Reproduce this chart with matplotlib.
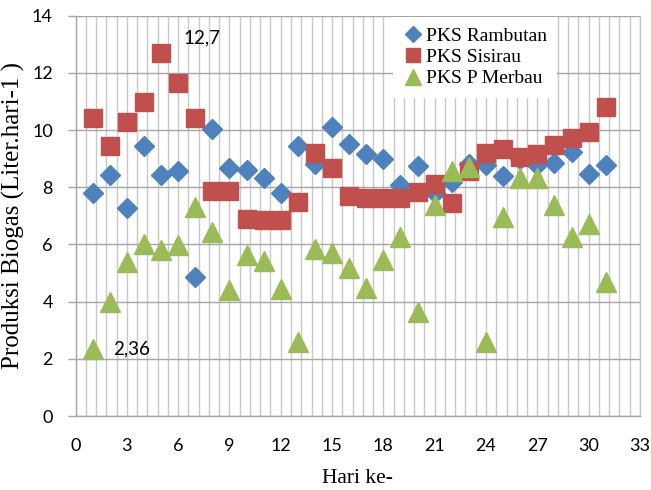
"""Produksi biogas harian per PKS (scatter, gaya Excel)."""
import matplotlib
matplotlib.use("Agg")
import matplotlib.pyplot as plt
import numpy as np

# -----------------------------------------------------------------------------
# Data
# -----------------------------------------------------------------------------
hari = list(range(1, 32))

rambutan = [7.8, 8.43, 7.27, 9.43, 8.43, 8.58, 4.85, 10.03, 8.66, 8.6,
            8.31, 7.79, 9.45, 8.83, 10.1, 9.5, 9.16, 8.99, 8.08, 8.74,
            7.79, 8.2, 8.8, 8.78, 8.4, 9.0, 8.78, 8.84, 9.25, 8.47, 8.79]

sisirau = [10.42, 9.43, 10.27, 10.98, 12.7, 11.63, 10.42, 7.88, 7.88, 6.9,
           6.84, 6.87, 7.48, 9.2, 8.66, 7.68, 7.62, 7.62, 7.62, 7.82,
           8.12, 7.45, 8.58, 9.2, 9.35, 9.06, 9.16, 9.47, 9.71, 9.94, 10.81]

merbau = [2.36, 3.98, 5.4, 6.0, 5.8, 5.98, 7.3, 6.44, 4.42, 5.62,
          5.42, 4.43, 2.6, 5.83, 5.7, 5.18, 4.49, 5.45, 6.27, 3.65,
          7.39, 8.58, 8.72, 2.6, 6.95, 8.31, 8.31, 7.38, 6.27, 6.7, 4.67]

x_ticks = list(range(0, 34, 3))
y_ticks = list(range(0, 15, 2))

# -----------------------------------------------------------------------------
# Plot
# -----------------------------------------------------------------------------
tick_font = "Lato"
serif_font = "Liberation Serif"
vgrid_col = "#C8C8C8"
hgrid_col = "#A6A6A6"

fig = plt.figure(figsize=(6.51, 4.90), dpi=100)
ax = fig.add_axes([0.116, 0.151, 0.867, 0.817])

ax.set_xlim(0, 33)
ax.set_ylim(0, 14)

# gridlines: vertical every 0.6 (Excel minor unit), horizontal every 2
for gx in np.arange(0, 33.01, 0.6):
    ax.axvline(gx, color=vgrid_col, lw=1.0, zorder=0)
for gy in y_ticks:
    ax.axhline(gy, color=hgrid_col, lw=1.0, zorder=0)

ax.plot(hari, rambutan, ls="none", marker="D", ms=10.5, color="#4F81BD",
        mec="#4F81BD", label="PKS Rambutan", zorder=3)
ax.plot(hari, sisirau, ls="none", marker="s", ms=12.5, color="#C0504D",
        mec="#C0504D", label="PKS Sisirau", zorder=4)
ax.plot(hari, merbau, ls="none", marker="^", ms=14, color="#9BBB59",
        mec="#9BBB59", label="PKS P Merbau", zorder=5)

# data labels for the extremes
i_max = int(np.argmax(sisirau))
ax.annotate("12,7", (hari[i_max], sisirau[i_max]), xytext=(16, 11),
            textcoords="offset points", fontsize=13.5, family=tick_font,
            va="center", ha="left")
i_min = int(np.argmin(merbau))
ax.annotate("2,36", (hari[i_min], merbau[i_min]), xytext=(15, 0),
            textcoords="offset points", fontsize=13.5, family=tick_font,
            va="center", ha="left")

ax.set_xticks(x_ticks)
ax.set_yticks(y_ticks)
ax.tick_params(axis="x", length=0, labelsize=13, pad=16)
ax.tick_params(axis="y", length=5.8, width=1.0, color=hgrid_col,
               labelsize=13, pad=10.5)
for lab in ax.get_xticklabels() + ax.get_yticklabels():
    lab.set_family(tick_font)

for side in ["left", "bottom", "right"]:
    ax.spines[side].set_color(hgrid_col)
    ax.spines[side].set_linewidth(1.0)
ax.spines["right"].set_color(vgrid_col)
ax.spines["top"].set_visible(False)

ax.set_xlabel("Hari ke-", family=serif_font, fontsize=15.5)
ax.xaxis.label.set_va("baseline")
ax.xaxis.set_label_coords(0.5, -0.167)
ax.set_ylabel("Produksi Biogas (Liter.hari-1 )", family=serif_font,
              fontsize=18)
ax.yaxis.label.set_va("bottom")
ax.yaxis.set_label_coords(-0.089, 0.5)

leg = ax.legend(loc="upper left", bbox_to_anchor=(0.562, 0.997),
                borderaxespad=0, frameon=True,
                prop={"family": serif_font, "size": 14}, handletextpad=0.15,
                borderpad=0.55, labelspacing=0.18, handlelength=1.0,
                markerscale=0.8)
leg.get_frame().set_edgecolor("none")
leg.get_frame().set_facecolor("white")
leg.get_frame().set_alpha(1.0)
leg.get_frame().set_boxstyle("square", pad=0)

plt.savefig("out.png", dpi=100)
plt.close()
